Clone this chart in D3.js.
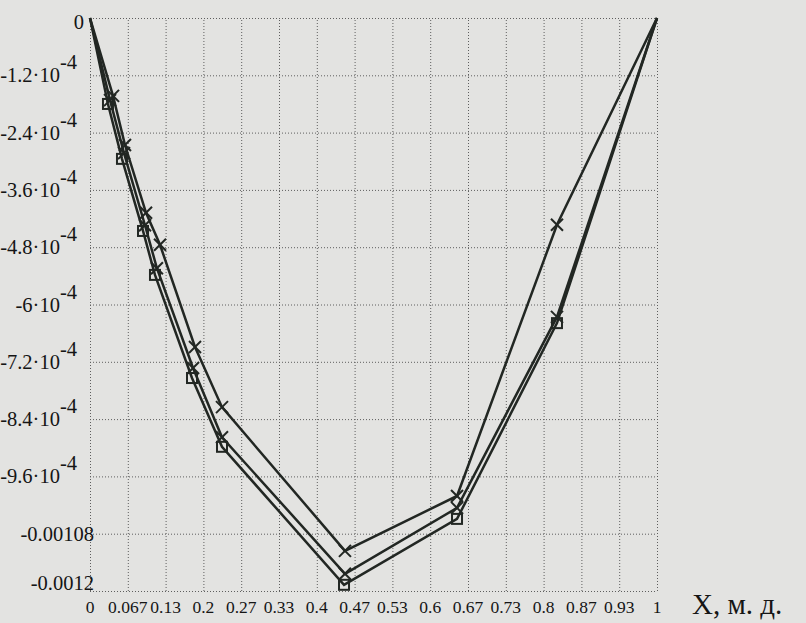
<!DOCTYPE html>
<html lang="ru">
  <head>
    <meta charset="UTF-8" />
    <script src="https://d3js.org/d3.v7.min.js"></script>
    <title>X, м. д.</title>
    <style>
      body { margin: 0; background: #e3e3e1; }
      text { font-family: "Liberation Serif", "DejaVu Serif", serif; fill: #151515; }
    </style>
  </head>
  <body>
    <div id="chart"></div>
    <script>
      // x positions (mole fraction) and values for the three curves
      const xSquare = [0, 0.0317, 0.0564, 0.0935, 0.1146, 0.1799, 0.2328, 0.448, 0.6473, 0.8236, 1];
      const ySquare = [0, -1.80e-4, -2.95e-4, -4.46e-4, -5.38e-4, -7.54e-4, -8.98e-4, -1.187e-3, -1.049e-3, -6.39e-4, 0];

      const xCrossLow = [0, 0.0353, 0.06, 0.097, 0.118, 0.1817, 0.2328, 0.4497, 0.6473, 0.8236, 1];
      const yCrossLow = [0, -1.72e-4, -2.83e-4, -4.34e-4, -5.24e-4, -7.33e-4, -8.78e-4, -1.164e-3, -1.026e-3, -6.26e-4, 0];

      const xCrossHigh = [0, 0.0406, 0.0617, 0.0988, 0.1235, 0.1852, 0.2328, 0.4497, 0.6473, 0.8236, 1];
      const yCrossHigh = [0, -1.63e-4, -2.66e-4, -4.08e-4, -4.75e-4, -6.89e-4, -8.15e-4, -1.116e-3, -1.001e-3, -4.33e-4, 0];

      const xTickLabels = ["0", "0.067", "0.13", "0.2", "0.27", "0.33", "0.4", "0.47", "0.53", "0.6", "0.67", "0.73", "0.8", "0.87", "0.93", "1"];
      // y tick labels: [mantissa, exponent] (Mathcad style)
      const yTickLabels = [
        ["0", null], ["-1.2·10", "-4"], ["-2.4·10", "-4"], ["-3.6·10", "-4"], ["-4.8·10", "-4"],
        ["-6·10", "-4"], ["-7.2·10", "-4"], ["-8.4·10", "-4"], ["-9.6·10", "-4"],
        ["-0.00108", null], ["-0.0012", null]
      ];
      const yTickValues = d3.range(0, 11).map((i) => -i * 1.2e-4);
      const xTitle = "X, м. д.";

      const W = 806, H = 623;
      const margin = { top: 18, right: 149, bottom: 32, left: 90 };
      const width = W - margin.left - margin.right;
      const height = H - margin.top - margin.bottom;

      const svg = d3.select("#chart").append("svg")
        .attr("width", W).attr("height", H);

      svg.append("rect").attr("width", W).attr("height", H).attr("fill", "#e3e3e1");

      const g = svg.append("g")
        .attr("transform", "translate(" + margin.left + "," + margin.top + ")");

      const x = d3.scaleLinear().domain([0, 1]).range([0, width]);
      const y = d3.scaleLinear().domain([-0.0012, 0]).range([height, 0]);

      const xTicks = d3.range(0, 16).map((i) => i / 15);

      // dotted grid
      g.append("g")
        .attr("transform", "translate(0," + height + ")")
        .call(d3.axisBottom(x).tickValues(xTicks).tickSizeInner(-height).tickSizeOuter(0).tickFormat(""))
        .call((a) => a.select(".domain").remove())
        .call((a) => a.selectAll("line")
          .attr("stroke", "#5e5e5e").attr("stroke-width", 1).attr("stroke-dasharray", "1,2"));

      g.append("g")
        .call(d3.axisLeft(y).tickValues(yTickValues).tickSizeInner(-width).tickSizeOuter(0).tickFormat(""))
        .call((a) => a.select(".domain").remove())
        .call((a) => a.selectAll("line")
          .attr("stroke", "#5e5e5e").attr("stroke-width", 1).attr("stroke-dasharray", "1,2"));

      // x tick labels
      g.append("g").selectAll("text")
        .data(xTicks)
        .join("text")
        .attr("x", (d) => x(d))
        .attr("y", height + 22)
        .attr("text-anchor", "middle")
        .style("font-size", "17.5px")
        .text((d, i) => xTickLabels[i]);

      // y tick labels
      const yl = g.append("g").selectAll("text")
        .data(yTickValues)
        .join("text")
        .attr("text-anchor", "end")
        .style("font-size", "20.5px")
        .attr("x", (d, i) => (yTickLabels[i][1] ? -13 : (i === 0 ? -6 : 4)))
        .attr("y", (d, i) => y(d) + (i === 0 ? 11 : i === 10 ? -1 : 7));
      yl.append("tspan").text((d, i) => yTickLabels[i][0]);
      yl.filter((d, i) => yTickLabels[i][1])
        .append("tspan")
        .attr("dy", -13)
        .text((d) => yTickLabels[yTickValues.indexOf(d)][1]);

      // x axis title
      svg.append("text")
        .attr("x", 692).attr("y", 614)
        .style("font-size", "29px")
        .text(xTitle);

      const lineColor = "#222723";
      const line = d3.line().x((d) => x(d[0])).y((d) => y(d[1]));

      const series = [
        { xs: xSquare, ys: ySquare, marker: "square" },
        { xs: xCrossLow, ys: yCrossLow, marker: "cross" },
        { xs: xCrossHigh, ys: yCrossHigh, marker: "cross" }
      ];

      series.forEach((s) => {
        const pts = s.xs.map((v, i) => [v, s.ys[i]]);
        g.append("path")
          .datum(pts)
          .attr("fill", "none")
          .attr("stroke", lineColor)
          .attr("stroke-width", 2.5)
          .attr("d", line);

        const inner = pts.slice(1, -1);
        if (s.marker === "square") {
          g.append("g").selectAll("rect")
            .data(inner)
            .join("rect")
            .attr("x", (d) => x(d[0]) - 5)
            .attr("y", (d) => y(d[1]) - 5)
            .attr("width", 10).attr("height", 10)
            .attr("fill", "none")
            .attr("stroke", lineColor)
            .attr("stroke-width", 2);
        } else {
          const c = g.append("g").selectAll("g")
            .data(inner)
            .join("g")
            .attr("transform", (d) => "translate(" + x(d[0]) + "," + y(d[1]) + ")");
          c.append("line").attr("x1", -6).attr("y1", -6).attr("x2", 6).attr("y2", 6)
            .attr("stroke", lineColor).attr("stroke-width", 2);
          c.append("line").attr("x1", -6).attr("y1", 6).attr("x2", 6).attr("y2", -6)
            .attr("stroke", lineColor).attr("stroke-width", 2);
        }
      });
    </script>
  </body>
</html>
